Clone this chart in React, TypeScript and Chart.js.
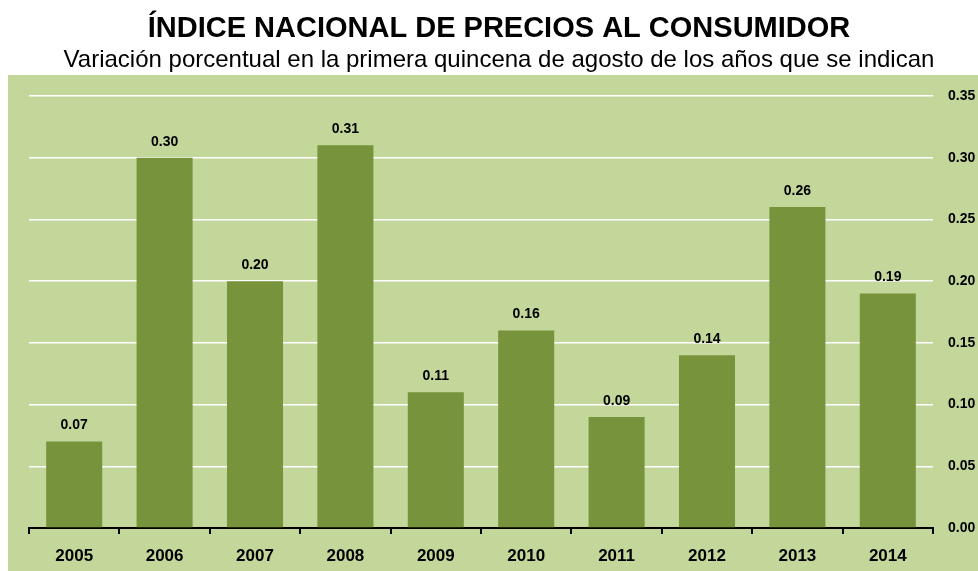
import React, { useEffect, useRef } from "react";
import { Chart, registerables } from "chart.js";

Chart.register(...registerables);

const years = ["2005", "2006", "2007", "2008", "2009", "2010", "2011", "2012", "2013", "2014"];
const values = [0.07, 0.3, 0.2, 0.31, 0.11, 0.16, 0.09, 0.14, 0.26, 0.19];
const yTicks = [0, 0.05, 0.1, 0.15, 0.2, 0.25, 0.3, 0.35];
const titleText = "ÍNDICE NACIONAL DE PRECIOS AL CONSUMIDOR";
const subtitleText = "Variación porcentual en la primera quincena de agosto de los años que se indican";

const BG = "#C4D79B";
const BAR = "#77933C";
const FONT = "'Liberation Sans', Arial, sans-serif";

const backgroundPlugin = {
  id: "bgAndTitles",
  beforeDraw(chart: any) {
    const { ctx, width, height } = chart;
    ctx.save();
    ctx.fillStyle = "#ffffff";
    ctx.fillRect(0, 0, width, height);
    ctx.fillStyle = BG;
    ctx.fillRect(8, 75, width - 8, height - 75);
    ctx.fillStyle = "#000000";
    ctx.textAlign = "center";
    ctx.textBaseline = "alphabetic";
    ctx.font = `bold 29px ${FONT}`;
    ctx.fillText(titleText, 499, 37);
    ctx.font = `24px ${FONT}`;
    ctx.fillText(subtitleText, 499, 67);
    ctx.restore();
  },
};

const labelPlugin = {
  id: "barLabels",
  afterDatasetsDraw(chart: any) {
    const { ctx } = chart;
    const meta = chart.getDatasetMeta(0);
    ctx.save();
    ctx.fillStyle = "#000000";
    ctx.font = `bold 14px ${FONT}`;
    ctx.textAlign = "center";
    ctx.textBaseline = "middle";
    meta.data.forEach((bar: any, i: number) => {
      ctx.fillText(values[i].toFixed(2), bar.x, bar.y - 16);
    });
    ctx.restore();
  },
};

export default function App() {
  const ref = useRef<HTMLCanvasElement | null>(null);
  useEffect(() => {
    document.documentElement.style.overflow = "hidden";
    document.body.style.overflow = "hidden";
    document.body.style.margin = "0";
    if (!ref.current) return;
    const chart = new Chart(ref.current, {
      type: "bar",
      data: {
        labels: years,
        datasets: [
          {
            data: values,
            backgroundColor: BAR,
            borderWidth: 0,
            barPercentage: 0.62,
            categoryPercentage: 1,
          },
        ],
      },
      options: {
        animation: false,
        responsive: false,
        maintainAspectRatio: false,
        layout: { padding: { left: 29, top: 96, right: 0, bottom: 0 } },
        plugins: {
          legend: { display: false },
          title: { display: false },
          tooltip: { enabled: false },
        },
        scales: {
          x: {
            offset: true,
            afterFit(scale: any) {
              scale.height = 43;
            },
            grid: {
              offset: true,
              drawOnChartArea: false,
              drawTicks: true,
              tickLength: 6,
              color: "#000000",
              lineWidth: 2,
            },
            border: { display: true, color: "#000000", width: 2 },
            ticks: {
              color: "#000000",
              font: { family: FONT, size: 17, weight: "bold" },
              padding: 12,
            },
          },
          y: {
            position: "right",
            min: 0,
            max: 0.35,
            afterFit(scale: any) {
              scale.width = 45;
            },
            afterBuildTicks(scale: any) {
              scale.ticks = yTicks.map((v) => ({ value: v }));
            },
            grid: {
              color: "#ffffff",
              lineWidth: 1.5,
              drawTicks: false,
            },
            border: { display: false },
            ticks: {
              color: "#000000",
              font: { family: FONT, size: 14, weight: "bold" },
              padding: 15,
              callback: (v: any) => Number(v).toFixed(2),
            },
          },
        },
      },
      plugins: [backgroundPlugin, labelPlugin],
    } as any);
    return () => chart.destroy();
  }, []);
  return <canvas ref={ref} width={978} height={571} style={{ display: "block" }} />;
}
